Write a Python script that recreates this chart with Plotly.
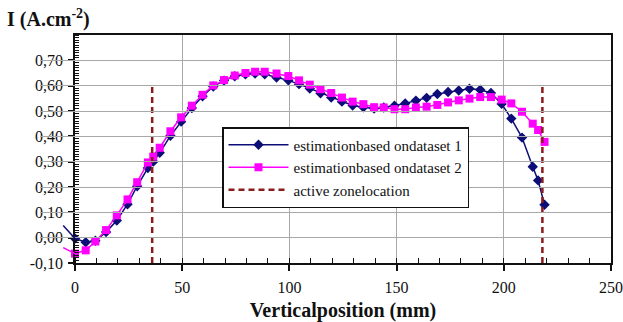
import plotly.graph_objects as go

# ---------------- data ----------------
pos_mm = [0, 5, 9.5, 14.5, 19.5, 24.5, 29, 34, 36.5, 39.5,
          44.5, 49.5, 54.5, 59.5, 64.5, 69.5, 74.5, 79.5, 84, 88.5,
          94, 99.5, 104.5, 109.5, 114.5, 119.5, 124.5, 129.5, 134.5, 139.5,
          144, 149, 154, 159, 164, 169, 174, 179, 184, 189,
          194, 199, 203.5, 208.5, 213.5, 216, 219]

dataset1 = [-0.003, -0.018, -0.012, 0.022, 0.068, 0.132, 0.203, 0.275, 0.300, 0.335,
            0.402, 0.458, 0.512, 0.558, 0.597, 0.620, 0.637, 0.645, 0.648, 0.645,
            0.632, 0.621, 0.606, 0.589, 0.570, 0.553, 0.537, 0.522, 0.515, 0.510,
            0.514, 0.521, 0.530, 0.541, 0.552, 0.567, 0.575, 0.581, 0.588, 0.584,
            0.571, 0.528, 0.470, 0.395, 0.280, 0.226, 0.130]

dataset2 = [-0.063, -0.050, -0.015, 0.030, 0.088, 0.151, 0.219, 0.297, 0.320, 0.355,
            0.420, 0.475, 0.521, 0.564, 0.601, 0.622, 0.640, 0.650, 0.655, 0.655,
            0.648, 0.638, 0.621, 0.604, 0.586, 0.571, 0.553, 0.537, 0.527, 0.515,
            0.514, 0.507, 0.507, 0.514, 0.517, 0.524, 0.534, 0.542, 0.549, 0.555,
            0.555, 0.545, 0.530, 0.497, 0.450, 0.425, 0.378]

# segments entering from the left of the axis (partly clipped in the original)
lead_x = [-5.5, 0]
lead1 = [0.048, -0.003]
lead2 = [-0.039, -0.063]

zone_x = [36, 218]
zone_bottom = -0.10
zone_top = 0.60

x_ticks = [0, 50, 100, 150, 200, 250]
y_ticks = [-0.1, 0.0, 0.1, 0.2, 0.3, 0.4, 0.5, 0.6, 0.7]
y_labels = ["-0,10", "0,00", "0,10", "0,20", "0,30", "0,40", "0,50", "0,60", "0,70"]

names = ["estimationbased ondataset 1", "estimationbased ondataset 2", "active zonelocation"]

# ---------------- style ----------------
NAVY = "#0d0d78"
MAGENTA = "#ff00ff"
DARKRED = "#8b1c1c"
FONT = "Liberation Serif"

W, H = 623, 322
ML, MR, MT, MB = 40, 12, 35, 59
PLOT_LEFT = 75  # pixel where x=0 sits
paper_w = W - ML - MR
paper_h = H - MT - MB
dom0 = (PLOT_LEFT - ML) / paper_w
x_range = [0, 250]
units_per_px = (x_range[1] - x_range[0]) / (W - MR - PLOT_LEFT)
x2_range = [x_range[0] - (PLOT_LEFT - ML) * units_per_px, x_range[1]]

fig = go.Figure()

# lead-in segments (no markers, no legend)
for vals, col in [(lead1, NAVY), (lead2, MAGENTA)]:
    fig.add_trace(go.Scatter(x=lead_x, y=vals, xaxis="x2", yaxis="y", mode="lines",
                             line=dict(color=col, width=1.5), showlegend=False,
                             hoverinfo="skip"))

fig.add_trace(go.Scatter(x=pos_mm, y=dataset1, name=names[0], mode="lines+markers",
                         line=dict(color=NAVY, width=1.5),
                         marker=dict(symbol="diamond", size=8, color=NAVY),
                         cliponaxis=False))
fig.add_trace(go.Scatter(x=pos_mm, y=dataset2, name=names[1], mode="lines+markers",
                         line=dict(color=MAGENTA, width=1.5),
                         marker=dict(symbol="square", size=8, color=MAGENTA),
                         cliponaxis=False))

zx, zy = [], []
for i, xv in enumerate(zone_x):
    if i:
        zx.append(None)
        zy.append(None)
    zx += [xv, xv]
    zy += [zone_bottom, zone_top]
fig.add_trace(go.Scatter(x=zx, y=zy, name=names[2], mode="lines",
                         line=dict(color=DARKRED, width=2.5, dash="6px,4px")))

fig.update_layout(
    width=W, height=H,
    margin=dict(l=ML, r=MR, t=MT, b=MB, autoexpand=False),
    paper_bgcolor="white", plot_bgcolor="rgba(0,0,0,0)",
    font=dict(family=FONT, size=16, color="#111"),
    showlegend=True,
    legend=dict(x=(222 - ML) / paper_w, y=(263 - 127) / paper_h,
                xanchor="left", yanchor="top",
                bordercolor="#111", borderwidth=1.5, bgcolor="white",
                font=dict(family=FONT, size=15, color="#111"),
                itemwidth=60, tracegroupgap=0),
    xaxis=dict(domain=[dom0, 1], range=x_range, tickvals=x_ticks, automargin=False,
               showgrid=True, gridcolor="#a8a8a8", gridwidth=1,
               showline=True, linecolor="#111", linewidth=1.5, mirror=True,
               ticks="outside", ticklen=6, tickcolor="#111", tickwidth=1.5,
               ticklabelstandoff=3,
               minor=dict(dtick=10, ticks="inside", ticklen=5, tickcolor="#111",
                          tickwidth=1, showgrid=False),
               zeroline=False, tickfont=dict(size=16),
               title=dict(text="<b>Verticalposition (mm)</b>",
                          font=dict(size=20), standoff=10)),
    xaxis2=dict(domain=[0, 1], range=x2_range, anchor="y", automargin=False,
                showgrid=False, showline=False, showticklabels=False,
                ticks="", zeroline=False),
    yaxis=dict(range=[-0.1, 0.8], tickvals=y_ticks, ticktext=y_labels, automargin=False,
               showgrid=True, gridcolor="#a8a8a8", gridwidth=1,
               showline=True, linecolor="#111", linewidth=1.5, mirror=True,
               ticks="outside", ticklen=5, tickcolor="#111", tickwidth=1.5,
               ticklabelstandoff=2,
               minor=dict(dtick=0.01, ticks="inside", ticklen=4, tickcolor="#111",
                          tickwidth=1, showgrid=False),
               zeroline=False, tickfont=dict(size=16)),
    annotations=[dict(text="<b>I (A.cm<sup>-2</sup>)</b>", xref="paper", yref="paper",
                      x=(5 - ML) / paper_w, y=1 + (35 - 4) / paper_h,
                      xanchor="left", yanchor="top", showarrow=False,
                      font=dict(family=FONT, size=20, color="#111"))],
)

fig.write_html("out.html")
